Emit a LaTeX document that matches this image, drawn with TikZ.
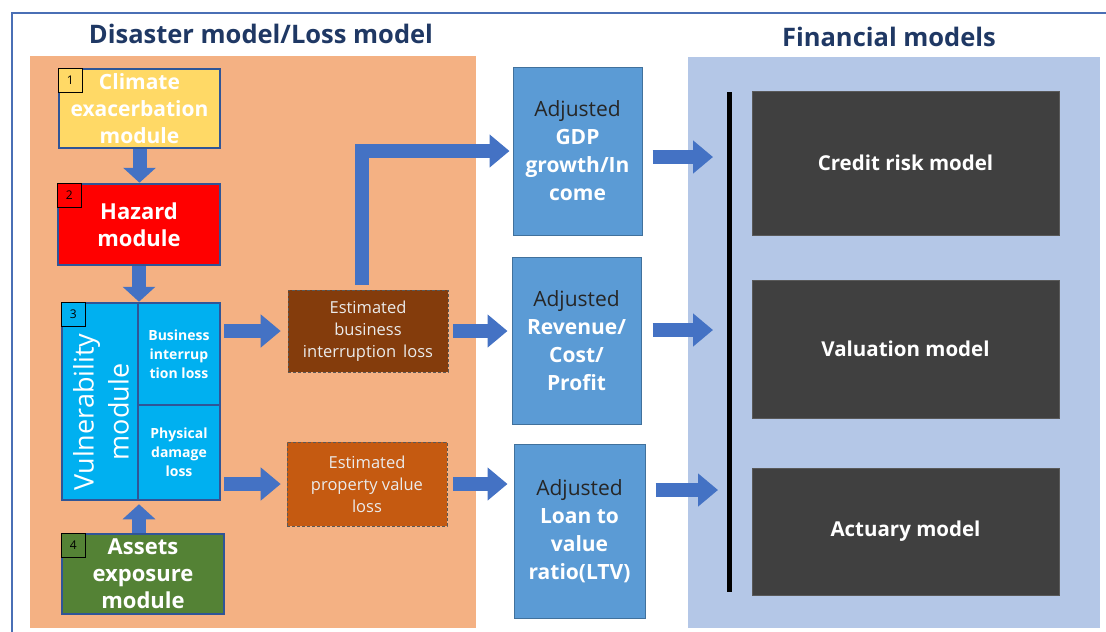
\documentclass[tikz,border=0pt]{standalone}
\usepackage{fontspec}
\setmainfont{Open Sans}
\usetikzlibrary{arrows.meta}

\definecolor{panelorange}{HTML}{F4B183}
\definecolor{panelblue}{HTML}{B4C7E7}
\definecolor{framecol}{HTML}{4A6FB5}
\definecolor{titlecol}{HTML}{1F3864}
\definecolor{modborder}{HTML}{2F5597}
\definecolor{climcol}{HTML}{FFD966}
\definecolor{hazcol}{HTML}{FF0000}
\definecolor{vulcol}{HTML}{00B0F0}
\definecolor{assetcol}{HTML}{548235}
\definecolor{bicol}{HTML}{843C0C}
\definecolor{pvcol}{HTML}{C55A11}
\definecolor{adjcol}{HTML}{5B9BD5}
\definecolor{adjborder}{HTML}{41719C}
\definecolor{finbox}{HTML}{404040}
\definecolor{arrowcol}{HTML}{4472C4}

\begin{document}
\begin{tikzpicture}[x=1pt,y=-1pt,
    modbox/.style={draw=modborder,line width=2.5pt,align=center,text=white,inner sep=0pt},
    numbox/.style={draw=black,line width=1pt,minimum size=24,inner sep=0pt,font=\fontsize{12}{12}\selectfont,anchor=north west},
    lossbox/.style={draw=gray!70!black,densely dashed,line width=0.6pt,align=center,text=white!92!black,
        minimum width=160,font=\fontsize{16.5}{22}\selectfont},
    adjbox/.style={draw=adjborder,fill=adjcol,line width=1pt,align=center,text=white,
        font=\fontsize{21}{28}\selectfont\bfseries},
    finmodel/.style={fill=finbox,draw=gray!70!black,line width=0.6pt,text=white,minimum width=307,
        font=\fontsize{20.5}{24}\selectfont\bfseries},
    blk/.style={draw=arrowcol,line width=14pt,-{Triangle[width=32pt,length=20pt]}},
    blkv/.style={draw=arrowcol,line width=14pt,-{Triangle[width=32pt,length=15pt]}},
    ttl/.style={text=titlecol,font=\fontsize{25.5}{28}\selectfont\bfseries}
]
\useasboundingbox (0,0) rectangle (1106,632);

% frame and panels
\draw[framecol,line width=1.2pt] (12,632) -- (12,13) -- (1106,13);
\fill[panelorange] (30,56) rectangle (476,628);
\fill[panelblue] (688,57) rectangle (1100,628);

\node[ttl] (ttlloss) at (261,34) {Disaster model/Loss model};
\node[ttl] (ttlfin) at (889,37) {Financial models};

% disaster / loss modules
\node[modbox,fill=climcol,minimum width=161,minimum height=79,font=\fontsize{21}{27}\selectfont\bfseries] (clim) at (139.5,108.5)
    {Climate\\exacerbation\\module};
\node[modbox,fill=hazcol,minimum width=162,minimum height=81,font=\fontsize{22}{27}\selectfont\bfseries] (haz) at (139,224.5)
    {Hazard\\module};
\node[modbox,fill=vulcol,minimum width=158,minimum height=197] (vul) at (141,401.5) {};
\node[rotate=90,align=center,text=white,font=\fontsize{27}{35}\selectfont] (vultxt) at (101,412)
    {Vulnerability\\module};
\node[align=center,text=white,font=\fontsize{14}{19}\selectfont\bfseries] (bil) at (179,354)
    {Business\\interrup\\tion loss};
\node[align=center,text=white,font=\fontsize{14}{19}\selectfont\bfseries] (pdl) at (179,452)
    {Physical\\damage\\loss};
\draw[modborder,line width=1.2pt] (138,303) -- (138,500) (138,405) -- (220,405);
\node[modbox,fill=assetcol,minimum width=162,minimum height=80,font=\fontsize{22}{27}\selectfont\bfseries] (asset) at (143,574)
    {Assets\\exposure\\module};

\node[numbox,fill=climcol] (n1) at (clim.north west) {1};
\node[numbox,fill=hazcol] (n2) at (haz.north west) {2};
\node[numbox,fill=vulcol] (n3) at (vul.north west) {3};
\node[numbox,fill=assetcol] (n4) at (asset.north west) {4};

\node[lossbox,fill=bicol,minimum height=82] (bi) at (368,331)
    {Estimated\\business\\interruption\, loss};
\node[lossbox,fill=pvcol,minimum height=84] (pv) at (367,484)
    {Estimated\\property value\\loss};

% adjusted quantities
\node[adjbox,minimum width=129,minimum height=168] (gdp) at (577.5,151)
    {{\mdseries\color{black!85}Adjusted}\\GDP\\growth/In\\come};
\node[adjbox,minimum width=129,minimum height=167] (rev) at (576.5,340.5)
    {{\mdseries\color{black!85}Adjusted}\\Revenue/\\Cost/\\Profit};
\node[adjbox,minimum width=131,minimum height=174] (ltv) at (579.5,531)
    {{\mdseries\color{black!85}Adjusted}\\Loan to\\value\\ratio(LTV)};

% financial models
\draw[black,line width=5pt] (729,92) coordinate (bartop) -- (729,592) coordinate (barbot);
\node[finmodel,minimum height=144] (credit) at (905.5,163) {Credit risk model};
\node[finmodel,minimum height=138] (valu) at (905.5,349) {Valuation model};
\node[finmodel,minimum height=127] (actu) at (905.5,531.5) {Actuary model};

% arrows
\draw[blkv] (clim.south) -- (clim.south |- haz.north);
\draw[blkv] (haz.south) -- (haz.south |- vul.north);
\draw[blkv,shorten >=3] ([xshift=-4pt]asset.north) -- ([xshift=-4pt]asset.north |- vul.south);
\draw[blk,shorten <=3,shorten >=7] (bi.west -| vul.east) -- (bi.west);
\draw[blk,shorten <=3,shorten >=6] (pv.west -| vul.east) -- (pv.west);
\draw[blk,shorten <=5,shorten >=4] (bi.east) -- (bi.east -| rev.west);
\draw[blk,shorten <=6,shorten >=6] (pv.east) -- (pv.east -| ltv.west);
\draw[blk,line cap=rect] ([xshift=-6pt,yshift=12pt]bi.north) |- ([xshift=-3pt]gdp.west);
\coordinate (in1) at (729,157);
\coordinate (in2) at (729,330);
\coordinate (in3) at (729,490);
\draw[blk,shorten <=10,shorten >=16] (gdp.east |- in1) -- (in1);
\draw[blk,shorten <=11,shorten >=16] (rev.east |- in2) -- (in2);
\draw[blk,shorten <=10,shorten >=11] (ltv.east |- in3) -- (in3);
\end{tikzpicture}
\end{document}
